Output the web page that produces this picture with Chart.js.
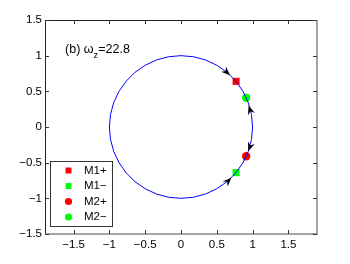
<!DOCTYPE html>
<html>
<head>
<meta charset="utf-8">
<script src="https://cdn.jsdelivr.net/npm/chart.js@4"></script>
<style>
  html, body { margin: 0; padding: 0; background: #fff; }
  #wrap { width: 350px; height: 264px; }
</style>
</head>
<body>
<div id="wrap"><canvas id="orbitChart"></canvas></div>
<script>
  // unit circle, read every 10 degrees
  const circleX = [1, .985, .940, .866, .766, .643, .5, .342, .174, 0, -.174, -.342, -.5, -.643, -.766, -.866, -.940, -.985, -1,
    -.985, -.940, -.866, -.766, -.643, -.5, -.342, -.174, 0, .174, .342, .5, .643, .766, .866, .940, .985, 1];
  const circleY = [0, .174, .342, .5, .643, .766, .866, .940, .985, 1, .985, .940, .866, .766, .643, .5, .342, .174, 0,
    -.174, -.342, -.5, -.643, -.766, -.866, -.940, -.985, -1, -.985, -.940, -.866, -.766, -.643, -.5, -.342, -.174, 0];

  const markerLabels = ['M1+', 'M1\u2212', 'M2+', 'M2\u2212'];
  const markerX = [0.77, 0.77, 0.91, 0.91];
  const markerY = [0.64, -0.64, -0.41, 0.41];

  // arrow tips on the circle, dir 1 = counter-clockwise, -1 = clockwise
  const arrowX = [0.685, 0.945, 0.94, 0.705];
  const arrowY = [0.725, 0.30, -0.34, -0.71];
  const arrowDir = [-1, 1, -1, 1];

  const tickValues = [-1.5, -1, -0.5, 0, 0.5, 1, 1.5];

  const FONT = '"Liberation Sans", Arial, Helvetica, sans-serif';
  const markerStyle = [
    { color: '#ff0000', style: 'rect', r: 5 },
    { color: '#00ff00', style: 'rect', r: 5 },
    { color: '#ff0000', style: 'circle', r: 4.2 },
    { color: '#00ff00', style: 'circle', r: 4.2 },
  ];

  const fmt = (v) => String(v).replace('-', '\u2212');

  const datasets = [{
    label: 'orbit',
    data: circleX.map((x, i) => ({ x: x, y: circleY[i] })),
    showLine: true,
    borderColor: '#0000ff',
    borderWidth: 1,
    pointRadius: 0,
    tension: 0,
  }];
  markerLabels.forEach((lab, i) => {
    datasets.push({
      label: lab,
      data: [{ x: markerX[i], y: markerY[i] }],
      pointStyle: markerStyle[i].style,
      pointRadius: markerStyle[i].r,
      backgroundColor: markerStyle[i].color,
      borderColor: markerStyle[i].color,
      pointBackgroundColor: markerStyle[i].color,
      pointBorderColor: markerStyle[i].color,
      pointBorderWidth: 0,
      borderWidth: 0,
    });
  });

  const extras = {
    id: 'extras',
    afterDatasetsDraw(chart) {
      const { ctx, chartArea: a, scales: { x: sx, y: sy } } = chart;
      ctx.save();

      // arrow heads
      ctx.fillStyle = '#000';
      arrowX.forEach((ax, i) => {
        const ay = arrowY[i];
        const tx = -ay * arrowDir[i], ty = ax * arrowDir[i];
        const px = sx.getPixelForValue(ax), py = sy.getPixelForValue(ay);
        const bx = sx.getPixelForValue(ax - tx * 0.1), by = sy.getPixelForValue(ay - ty * 0.1);
        let dx = px - bx, dy = py - by;
        const len = Math.hypot(dx, dy); dx /= len; dy /= len;
        const nx = -dy, ny = dx, L = 9, W = 3.6;
        ctx.beginPath();
        ctx.moveTo(px, py);
        ctx.lineTo(px - L * dx + W * nx, py - L * dy + W * ny);
        ctx.lineTo(px - (L - 3) * dx, py - (L - 3) * dy);
        ctx.lineTo(px - L * dx - W * nx, py - L * dy - W * ny);
        ctx.closePath();
        ctx.fill();
      });

      // box and inward ticks
      ctx.strokeStyle = '#222';
      ctx.lineWidth = 1;
      ctx.beginPath();
      ctx.moveTo(a.left + 0.5, a.bottom); ctx.lineTo(a.left + 0.5, a.top + 0.5); ctx.lineTo(a.right, a.top + 0.5);
      ctx.stroke();
      ctx.strokeStyle = '#888';
      ctx.lineWidth = 1.5;
      ctx.beginPath();
      ctx.moveTo(a.right, a.top); ctx.lineTo(a.right, a.bottom); ctx.lineTo(a.left, a.bottom);
      ctx.stroke();
      ctx.strokeStyle = '#333';
      ctx.lineWidth = 1;
      ctx.beginPath();
      tickValues.forEach((v) => {
        const X = Math.round(sx.getPixelForValue(v)) + 0.5;
        ctx.moveTo(X, a.bottom); ctx.lineTo(X, a.bottom - 4);
        ctx.moveTo(X, a.top); ctx.lineTo(X, a.top + 4);
        const Y = Math.round(sy.getPixelForValue(v)) + 0.5;
        ctx.moveTo(a.left, Y); ctx.lineTo(a.left + 4, Y);
        ctx.moveTo(a.right, Y); ctx.lineTo(a.right - 4, Y);
      });
      ctx.stroke();

      // annotation text
      ctx.fillStyle = '#000';
      ctx.textBaseline = 'middle';
      ctx.textAlign = 'left';
      let tx0 = sx.getPixelForValue(-1.62);
      const ty0 = sy.getPixelForValue(1.09);
      ctx.font = '12.5px ' + FONT;
      ctx.fillText('(b) \u03c9', tx0, ty0);
      tx0 += ctx.measureText('(b) \u03c9').width;
      ctx.font = '9.5px ' + FONT;
      ctx.fillText('z', tx0, ty0 + 6);
      tx0 += ctx.measureText('z').width;
      ctx.font = '12.5px ' + FONT;
      ctx.fillText('=22.8', tx0, ty0);

      // legend box
      const lx = 50, ly = 161, lw = 62, lh = 65;
      ctx.fillStyle = '#fff';
      ctx.fillRect(lx, ly, lw, lh);
      ctx.strokeStyle = '#333';
      ctx.lineWidth = 1;
      ctx.strokeRect(lx + 0.5, ly + 0.5, lw, lh);
      ctx.font = '11.5px ' + FONT;
      chart.data.datasets.slice(1).forEach((ds, i) => {
        const rowY = ly + 9.5 + i * 15.5;
        const r = ds.pointStyle === 'rect' ? 4.2 : 3.6;
        ctx.fillStyle = ds.backgroundColor;
        ctx.strokeStyle = ds.backgroundColor;
        Chart.helpers.drawPoint(ctx, { pointStyle: ds.pointStyle, radius: r, borderWidth: 0 }, 68.5, rowY);
        ctx.fillStyle = '#000';
        ctx.fillText(ds.label, 84, rowY);
      });
      ctx.restore();
    }
  };

  const tickFont = { family: FONT, size: 11.5 };
  new Chart(document.getElementById('orbitChart'), {
    type: 'scatter',
    data: { datasets: datasets },
    options: {
      responsive: true,
      maintainAspectRatio: false,
      animation: false,
      layout: { padding: { top: 20, right: 33, left: 0, bottom: 0 } },
      plugins: { legend: { display: false }, tooltip: { enabled: false } },
      scales: {
        x: {
          type: 'linear',
          min: -1.9,
          max: 1.9,
          afterBuildTicks: (s) => { s.ticks = tickValues.map((v) => ({ value: v })); },
          afterFit: (s) => { s.height = 30; },
          grid: { display: false, drawTicks: false },
          border: { display: false },
          ticks: { color: '#000', font: tickFont, padding: 4, maxRotation: 0, callback: (v) => fmt(v) },
        },
        y: {
          type: 'linear',
          min: -1.5,
          max: 1.5,
          afterBuildTicks: (s) => { s.ticks = tickValues.map((v) => ({ value: v })); },
          afterFit: (s) => { s.width = 45; },
          grid: { display: false, drawTicks: false },
          border: { display: false },
          ticks: { color: '#000', font: tickFont, padding: 3, callback: (v) => fmt(v) },
        },
      },
    },
    plugins: [extras],
  });
</script>
</body>
</html>
